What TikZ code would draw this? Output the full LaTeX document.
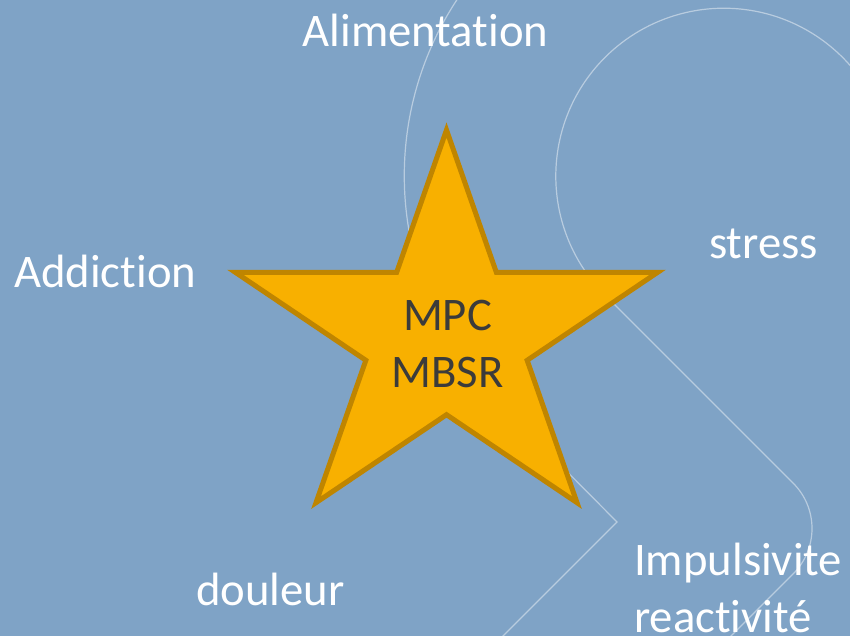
\documentclass[tikz,border=0pt]{standalone}
\usepackage{fontspec}
\setmainfont[Ligatures=NoCommon]{Carlito}
\usepackage{tikz}
\definecolor{slide}{HTML}{7FA3C6}
\definecolor{starfill}{HTML}{F8B000}
\definecolor{starline}{HTML}{BF8500}
\definecolor{startext}{HTML}{3B3B3B}

\begin{document}
\begin{tikzpicture}[x=1pt, y=-1pt,
  theme/.style={font=\fontsize{46.7}{57}\selectfont, text=white, inner sep=0pt},
  deco/.style={draw=white, draw opacity=0.45, line width=1.2pt},
  starshape/.style={fill=starfill, draw=starline, line width=5pt, line join=miter, miter limit=10}]
 \useasboundingbox (0,0) rectangle (850,636);
 \clip (0,0) rectangle (850,636);
 \fill[slide] (0,0) rectangle (850,636);

 % background outlines
 \draw[deco] (479,660) -- (617,522) -- (498,402) arc[start angle=135, end angle=280, radius=320];
 \draw[deco] (707,660) -- (793.25,573.75) arc[start angle=45, end angle=-45, radius=64]
   -- (605,295) arc[start angle=135, end angle=330, radius=168];

 % star
 \draw[starshape] (446.5,130) \foreach \a/\r in {-54/0.382, -18/1, 18/0.382, 54/1, 90/0.382, 126/1, 162/0.382, 198/1, 234/0.382}
   { -- ({446.5+\r*222*cos(\a)},{336+\r*206*sin(\a)}) } -- cycle;
 \node[theme, text=startext, anchor=base, align=center] (mpc) at (447.5,387) {MPC\\MBSR};

 \node[theme, anchor=base] (alim) at (425.5,47) {Alimentation};
 \node[theme, anchor=base west] (addict) at (14,287) {Addiction};
 \node[theme, anchor=base] (stress) at (763.5,258) {stress};
 \node[theme, anchor=base west] (douleur) at (196,605) {douleur};
 \node[theme, anchor=base west, align=left] (impuls) at (634,632) {Impulsivite\\reactivité};
\end{tikzpicture}
\end{document}
